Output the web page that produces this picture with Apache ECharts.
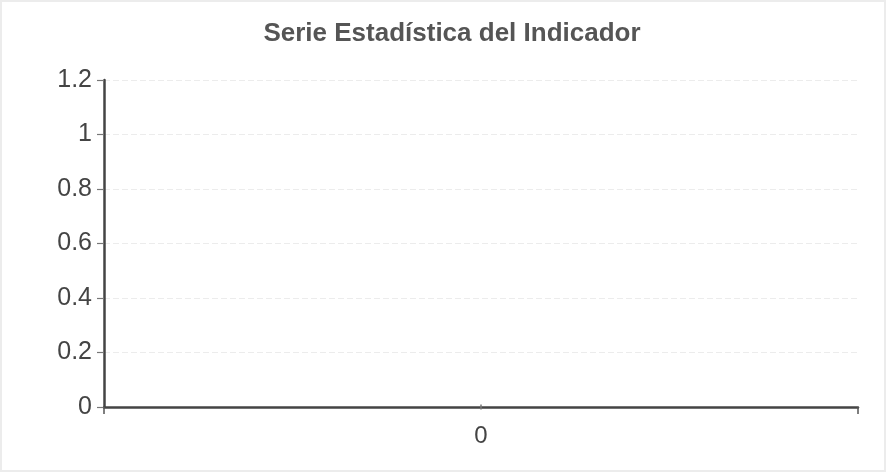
<!DOCTYPE html>
<html>
<head>
<meta charset="utf-8">
<script src="https://cdn.jsdelivr.net/npm/echarts@6/dist/echarts.min.js"></script>
<style>
html,body{margin:0;padding:0;background:#fff;}
#c{width:888px;height:476px;}
</style>
</head>
<body>
<div id="c"></div>
<script>
var categories = ['0'];
var seriesValues = [0];
var yTicks = [0, 0.2, 0.4, 0.6, 0.8, 1, 1.2];

var chart = echarts.init(document.getElementById('c'));
chart.setOption({
  backgroundColor: '#fff',
  animation: false,
  graphic: [{
    type: 'rect',
    shape: {x: 1, y: 1, width: 884, height: 470},
    style: {fill: 'none', stroke: '#ececec', lineWidth: 2},
    silent: true
  }],
  title: {
    text: 'Serie Estadística del Indicador',
    left: 447,
    textAlign: 'center',
    top: 16,
    textStyle: {fontFamily: 'Liberation Sans', fontSize: 26, fontWeight: 'bold', color: '#555'}
  },
  grid: {left: 104, right: 30, top: 80, bottom: 69},
  xAxis: {
    type: 'category',
    data: categories,
    boundaryGap: true,
    axisLine: {lineStyle: {color: '#444', width: 2.5}},
    axisTick: {show: true, length: 7, lineStyle: {color: '#555', width: 1.5}},
    axisLabel: {fontFamily: 'Liberation Sans', fontSize: 24, color: '#444', margin: 17},
    splitLine: {show: false}
  },
  yAxis: {
    type: 'value',
    min: 0,
    max: 1.2,
    interval: 0.2,
    axisLine: {show: true, lineStyle: {color: '#444', width: 2.5}},
    axisTick: {show: true, length: 7, lineStyle: {color: '#777', width: 1.2}},
    axisLabel: {
      fontFamily: 'Liberation Sans', fontSize: 25, color: '#444', margin: 12,
      formatter: function (v) { var r = Math.round(v * 10) / 10; return yTicks.indexOf(r) >= 0 ? String(r) : ''; }
    },
    splitLine: {show: true, lineStyle: {color: '#ececec', width: 1, type: [6, 3]}}
  },
  series: [{
    type: 'line',
    data: seriesValues,
    symbol: 'rect',
    symbolSize: [1.5, 5],
    itemStyle: {color: '#777'},
    lineStyle: {width: 0}
  }]
});
</script>
</body>
</html>
